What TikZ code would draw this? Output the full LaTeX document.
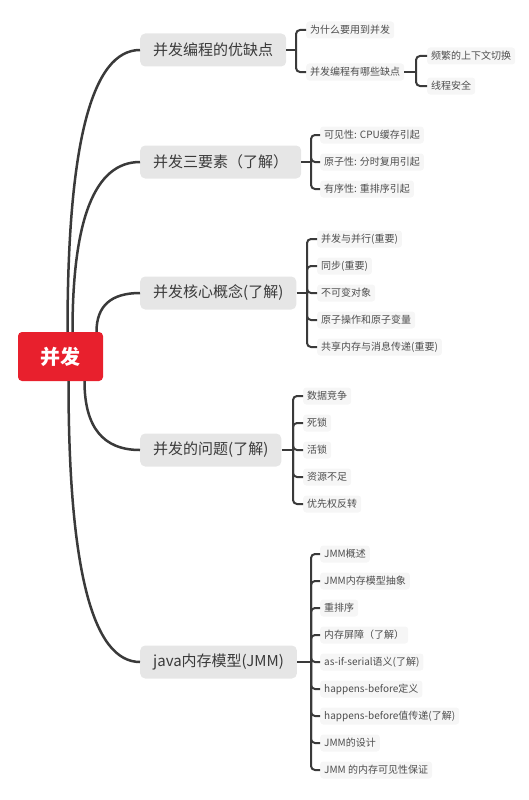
\documentclass[tikz,border=0pt]{standalone}
\usepackage{fontspec}
\setmainfont{Noto Sans CJK SC}
\usepackage{tikz}
\usetikzlibrary{calc}
\definecolor{rootred}{HTML}{E8202D}
\definecolor{topicgray}{HTML}{E6E6E6}
\definecolor{leafgray}{HTML}{F6F6F6}
\definecolor{inkgray}{HTML}{3A3A3A}

\begin{document}
\begin{tikzpicture}[x=1pt,y=-1pt,
  root/.style={fill=rootred,text=white,rounded corners=4pt,minimum width=85pt,minimum height=49pt,font=\fontsize{20}{20}\selectfont\bfseries},
  topic/.style={fill=topicgray,text=inkgray,rounded corners=5pt,anchor=west,minimum height=33pt,inner xsep=13pt,font=\fontsize{15}{15}\selectfont},
  leaf/.style={fill=leafgray,text=inkgray!90,rounded corners=3pt,anchor=west,minimum height=17pt,inner xsep=4pt,inner ysep=2pt,font=\fontsize{10}{10}\selectfont},
  stem/.style={draw=inkgray,line width=2.5pt},
  brace/.style={draw=inkgray,line width=2pt,rounded corners=4pt}]
  \useasboundingbox (0,0) rectangle (529,800);
  \node[root] (root) at (60.5,356.5) {并发};
  \node[topic] (b1) at (140,50) {并发编程的优缺点};
  \node[topic] (b2) at (140,162) {并发三要素（了解）};
  \node[topic] (b3) at (140,293) {并发核心概念(了解)};
  \node[topic] (b4) at (140,450) {并发的问题(了解)};
  \node[topic] (b5) at (140,662) {java内存模型(JMM)};
  % stems from the root (quadratic bends)
  \coordinate (s1) at ([xshift=7pt]root.north);
  \coordinate (s2) at ([xshift=12pt]root.north);
  \coordinate (s3) at ([xshift=36pt]root.north);
  \coordinate (s4) at ([xshift=24pt]root.south);
  \coordinate (s5) at ([xshift=8pt]root.south);
  \foreach \i in {1,...,5}
    \draw[stem] (s\i) .. controls ($(s\i)!0.667!(s\i |- b\i.west)$)
      and ($(b\i.west)!0.667!(s\i |- b\i.west)$) .. (b\i.west);
  % leaves
  \node[leaf] (c11) at (306,30) {为什么要用到并发};
  \node[leaf] (c12) at (306,72) {并发编程有哪些缺点};
  \node[leaf] (d1) at (427,56) {频繁的上下文切换};
  \node[leaf] (d2) at (427,86) {线程安全};
  \node[leaf] (c21) at (320,135) {可见性: CPU缓存引起};
  \node[leaf] (c22) at (320,162) {原子性: 分时复用引起};
  \node[leaf] (c23) at (320,189) {有序性: 重排序引起};
  \node[leaf] (c31) at (317,239) {并发与并行(重要)};
  \node[leaf] (c32) at (317,266) {同步(重要)};
  \node[leaf] (c33) at (317,293) {不可变对象};
  \node[leaf] (c34) at (317,320) {原子操作和原子变量};
  \node[leaf] (c35) at (317,347) {共享内存与消息传递(重要)};
  \node[leaf] (c41) at (303,396) {数据竞争};
  \node[leaf] (c42) at (303,423) {死锁};
  \node[leaf] (c43) at (303,450) {活锁};
  \node[leaf] (c44) at (303,477) {资源不足};
  \node[leaf] (c45) at (303,504) {优先权反转};
  \node[leaf] (c51) at (320,554) {JMM概述};
  \node[leaf] (c52) at (320,581) {JMM内存模型抽象};
  \node[leaf] (c53) at (320,608) {重排序};
  \node[leaf] (c54) at (320,635) {内存屏障（了解）};
  \node[leaf] (c55) at (320,662) {as-if-serial语义(了解)};
  \node[leaf] (c56) at (320,689) {happens-before定义};
  \node[leaf] (c57) at (320,716) {happens-before值传递(了解)};
  \node[leaf] (c58) at (320,743) {JMM的设计};
  \node[leaf] (c59) at (320,770) {JMM 的内存可见性保证};
  % brackets
  \coordinate (j1) at (296,50);
  \coordinate (k1) at (416,72);
  \coordinate (j2) at (311,162);
  \coordinate (j3) at (307,293);
  \coordinate (j4) at (293,450);
  \coordinate (j5) at (311,662);
  \draw[brace] (b1.east) -- (j1);
  \draw[brace] (c12.east) -- (k1);
  \draw[brace] (b2.east) -- (j2);
  \draw[brace] (b3.east) -- (j3);
  \draw[brace] (b4.east) -- (j4);
  \draw[brace] (b5.east) -- (j5);
  \foreach \c in {c11,c12} \draw[brace] (j1) |- (\c.west);
  \foreach \c in {d1,d2} \draw[brace] (k1) |- (\c.west);
  \foreach \c in {c21,c22,c23} \draw[brace] (j2) |- (\c.west);
  \foreach \c in {c31,c32,c33,c34,c35} \draw[brace] (j3) |- (\c.west);
  \foreach \c in {c41,c42,c43,c44,c45} \draw[brace] (j4) |- (\c.west);
  \foreach \c in {c51,c52,c53,c54,c55,c56,c57,c58,c59} \draw[brace] (j5) |- (\c.west);
\end{tikzpicture}
\end{document}
